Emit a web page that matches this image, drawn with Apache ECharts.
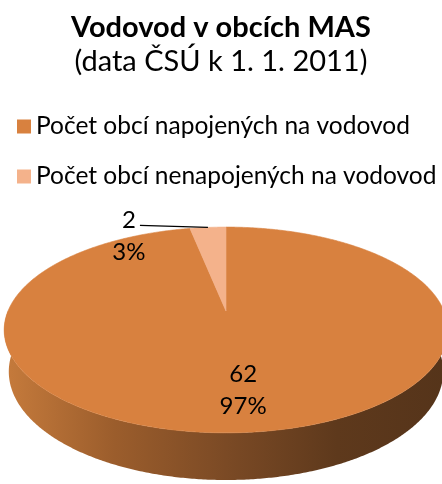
<!DOCTYPE html>
<html><head><meta charset="utf-8">
<script src="https://cdn.jsdelivr.net/npm/echarts@6/dist/echarts.min.js"></script>
<style>html,body{margin:0;padding:0;background:#fff}#c{width:442px;height:484px}</style>
</head><body><div id="c"></div>
<script>
// ---- data ----
const categories = ['Počet obcí napojených na vodovod', 'Počet obcí nenapojených na vodovod'];
const values = [62, 2];
const titleText = 'Vodovod v obcích MAS';
const subtitleText = '(data ČSÚ k 1. 1. 2011)';

// ---- styling / geometry ----
const topColors = ['#d8813f', '#f4b28b'];
const FONT = 'Lato';
const P = {cx: 226, cy: 311, g: 218, s: 0.456, c: 0.89, r: 0.207, h: 0.216};
const total = values.reduce((a, b) => a + b, 0);

function proj(theta, rho, y) {
  const X = rho * Math.sin(theta), Z = rho * Math.cos(theta);
  const yc = y * P.c + Z * P.s;
  const d = 1 + P.r * (Z * P.c - y * P.s);
  return [P.cx + P.g * X / d, P.cy - P.g * yc / d];
}
function arc(a0, a1, rho, y) {
  const n = Math.max(2, Math.ceil(Math.abs(a1 - a0) / (Math.PI / 360)));
  const pts = [];
  for (let i = 0; i <= n; i++) pts.push(proj(a0 + (a1 - a0) * i / n, rho, y));
  return pts;
}
const wallGradient = {
  type: 'linear', x: 4, y: 0, x2: 448, y2: 0, global: true,
  colorStops: [
    {offset: 0, color: '#c67b3c'},
    {offset: 0.25, color: '#9b5d2c'},
    {offset: 0.5, color: '#7b4a25'},
    {offset: 0.75, color: '#5e391c'},
    {offset: 1, color: '#55341a'}
  ]
};

function renderSlice(i) {
  const before = values.slice(0, i).reduce((a, b) => a + b, 0);
  const a0 = before / total * Math.PI * 2;
  const a1 = (before + values[i]) / total * Math.PI * 2;
  const children = [];
  const w0 = Math.max(a0, Math.PI / 2), w1 = Math.min(a1, Math.PI * 1.5);
  if (w1 > w0) {
    const pts = arc(w0, w1, 1, 0).concat(arc(w1, w0, 1, -P.h));
    children.push({type: 'polygon', z2: 1, shape: {points: pts},
      style: {fill: wallGradient, stroke: null}});
  }
  const topPts = [proj(0, 0, 0)].concat(arc(a0, a1, 1, 0));
  children.push({type: 'polygon', z2: 10, shape: {points: topPts},
    style: {fill: topColors[i], stroke: topColors[i], lineWidth: 0.6}});
  const pct = Math.round(values[i] / total * 100) + '%';
  const mid = (a0 + a1) / 2;
  const textStyle = {fontFamily: FONT, fontSize: 24, fill: '#000', align: 'center',
    verticalAlign: 'middle', lineHeight: 32};
  if (values[i] / total > 0.1) {
    const p = proj(mid, 0.70, 0);
    children.push({type: 'text', z2: 20, x: p[0], y: p[1],
      style: Object.assign({text: values[i] + '\n' + pct}, textStyle)});
  } else {
    const e = proj(mid, 1.0, 0);
    const s = [e[0] - 68, e[1] - 2];
    children.push({type: 'line', z2: 20, shape: {x1: s[0], y1: s[1], x2: e[0], y2: e[1]},
      style: {stroke: '#000', lineWidth: 1.2}});
    children.push({type: 'text', z2: 20, x: s[0] - 11, y: s[1] + 11,
      style: Object.assign({text: values[i] + '\n' + pct}, textStyle)});
  }
  return {type: 'group', children: children};
}

const chart = echarts.init(document.getElementById('c'), null, {renderer: 'canvas'});
chart.setOption({
  animation: false,
  backgroundColor: '#fff',
  title: {
    text: titleText, subtext: subtitleText, left: 'center', top: 8, itemGap: 5,
    textStyle: {fontFamily: FONT, fontWeight: 'bold', fontSize: 29, color: '#000'},
    subtextStyle: {fontFamily: FONT, fontSize: 29, color: '#000'}
  },
  legend: {
    orient: 'vertical', left: 12, top: 109, itemWidth: 14, itemHeight: 14, itemGap: 25,
    icon: 'rect', data: categories,
    textStyle: {fontFamily: FONT, fontSize: 24.5, color: '#000'}
  },
  series: categories.map((name, i) => ({
    type: 'custom', name: name, coordinateSystem: 'none',
    itemStyle: {color: topColors[i]},
    data: [[values[i]]],
    renderItem: () => renderSlice(i)
  }))
});
</script></body></html>
